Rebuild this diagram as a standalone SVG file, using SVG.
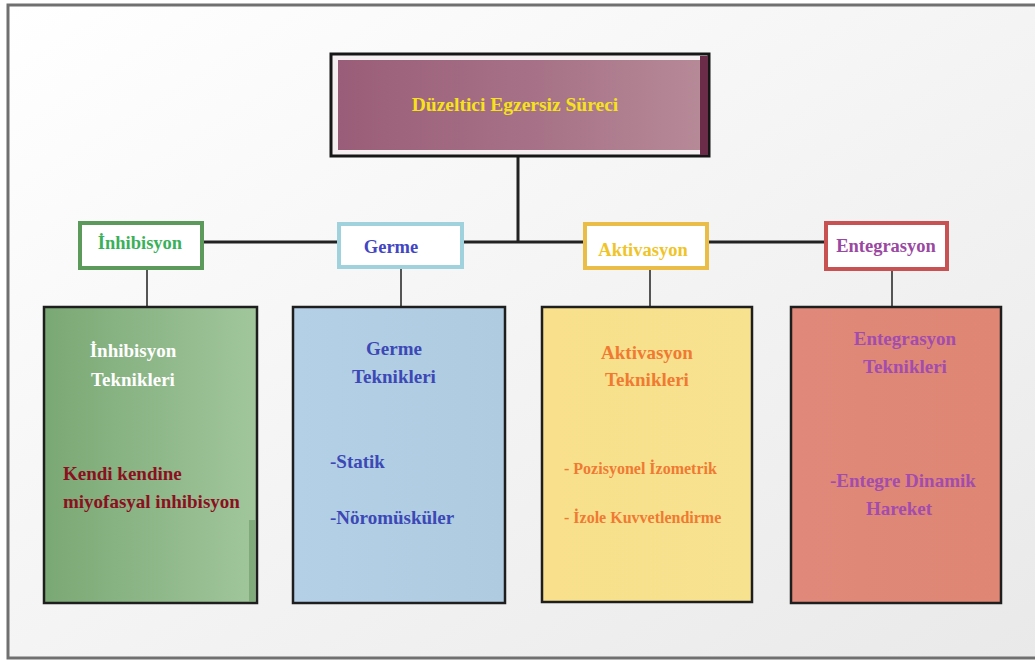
<svg xmlns="http://www.w3.org/2000/svg" width="1035" height="661" viewBox="0 0 1035 661">
<defs>
<linearGradient id="bg" x1="0" y1="0" x2="1" y2="1"><stop offset="0" stop-color="#ffffff"/><stop offset="1" stop-color="#e9e9ea"/></linearGradient>
<linearGradient id="gTop" x1="0" y1="0" x2="1" y2="0"><stop offset="0" stop-color="#9a5d79"/><stop offset="0.6" stop-color="#a87488"/><stop offset="1" stop-color="#b78a98"/></linearGradient>
<linearGradient id="gGreen" x1="0" y1="0" x2="1" y2="0"><stop offset="0" stop-color="#7aa874"/><stop offset="1" stop-color="#a1c69c"/></linearGradient>
<linearGradient id="gBlue" x1="0" y1="0" x2="1" y2="0"><stop offset="0" stop-color="#b4d0e6"/><stop offset="1" stop-color="#aecbe0"/></linearGradient>
<linearGradient id="gYellow" x1="0" y1="0" x2="1" y2="0"><stop offset="0" stop-color="#f8e08c"/><stop offset="1" stop-color="#f7e28f"/></linearGradient>
<linearGradient id="gRed" x1="0" y1="0" x2="1" y2="0"><stop offset="0" stop-color="#e0897a"/><stop offset="1" stop-color="#df8674"/></linearGradient>
<style>
text{font-family:"Liberation Serif","Times New Roman",serif;font-weight:bold;}
.big{stroke:#1e1e1e;stroke-width:2.5;}
.small{fill:#ffffff;stroke-width:4;}
.c{text-anchor:middle;}
.conn line{stroke:#222;stroke-width:3;}
.conn line.thin{stroke:#555;stroke-width:2;}
</style>
</defs>
<rect x="0" y="0" width="1035" height="661" fill="#ffffff"/>
<rect x="8" y="5" width="1040" height="653" fill="url(#bg)" stroke="#707070" stroke-width="3"/>
<g class="conn" id="connectors">
<line x1="518" y1="157" x2="518" y2="242"/>
<line x1="203" y1="242" x2="826" y2="242"/>
<line class="thin" x1="147" y1="269" x2="147" y2="307"/>
<line class="thin" x1="401" y1="268" x2="401" y2="307"/>
<line class="thin" x1="650" y1="269" x2="650" y2="307"/>
<line class="thin" x1="892" y1="270" x2="892" y2="307"/>
</g>
<g id="top">
<rect x="331" y="54" width="378" height="102" fill="#f4eef1" stroke="#161616" stroke-width="3"/>
<rect x="338" y="60" width="364" height="90" fill="url(#gTop)"/>
<rect x="700" y="56" width="8" height="99" fill="#6a2c48"/>
<text class="c" x="515" y="111" font-size="19.5" fill="#f6e21a">Düzeltici Egzersiz Süreci</text>
</g>
<g id="inhibisyon">
<rect class="small" x="80" y="223" width="122" height="45" stroke="#5c9a5c"/>
<text class="c" x="140" y="249" font-size="18.5" fill="#3bb05a">İnhibisyon</text>
</g>
<g id="germe">
<rect class="small" x="339" y="224" width="123" height="43" stroke="#a0d2de"/>
<text class="c" x="391" y="253" font-size="18.5" fill="#4246c2">Germe</text>
</g>
<g id="aktivasyon">
<rect class="small" x="585" y="224" width="122" height="44" stroke="#eabc48"/>
<text class="c" x="643" y="256" font-size="18.5" fill="#f0c428">Aktivasyon</text>
</g>
<g id="entegrasyon">
<rect class="small" x="826" y="223" width="121" height="46" stroke="#c85252"/>
<text class="c" x="886" y="252" font-size="18.5" fill="#9a48a2">Entegrasyon</text>
</g>
<g id="inhibisyon-teknikleri">
<rect class="big" x="44" y="307" width="213" height="296" fill="url(#gGreen)"/>
<rect x="249" y="520" width="6" height="82" fill="#5f8f5a" opacity="0.5"/>
<text class="c" x="133" y="357" font-size="19" fill="#ffffff">İnhibisyon</text>
<text class="c" x="133" y="386" font-size="19" fill="#ffffff">Teknikleri</text>
<text x="63" y="480" font-size="19" fill="#8b1020">Kendi kendine</text>
<text x="63" y="508" font-size="19" fill="#8b1020">miyofasyal inhibisyon</text>
</g>
<g id="germe-teknikleri">
<rect class="big" x="293" y="307" width="212" height="296" fill="url(#gBlue)"/>
<text class="c" x="394" y="355" font-size="19" fill="#3c48b6">Germe</text>
<text class="c" x="394" y="383" font-size="19" fill="#3c48b6">Teknikleri</text>
<text x="330" y="468" font-size="19" fill="#3c48b6">-Statik</text>
<text x="330" y="524" font-size="19" fill="#3c48b6">-Nöromüsküler</text>
</g>
<g id="aktivasyon-teknikleri">
<rect class="big" x="542" y="307" width="210" height="295" fill="url(#gYellow)"/>
<text class="c" x="647" y="359" font-size="19" fill="#f07a32">Aktivasyon</text>
<text class="c" x="647" y="386" font-size="19" fill="#f07a32">Teknikleri</text>
<text x="564" y="474" font-size="16" fill="#f07a32">- Pozisyonel İzometrik</text>
<text x="564" y="523" font-size="16" fill="#f07a32">- İzole Kuvvetlendirme</text>
</g>
<g id="entegrasyon-teknikleri">
<rect class="big" x="791" y="307" width="210" height="296" fill="url(#gRed)"/>
<text class="c" x="905" y="345" font-size="19" fill="#a24cae">Entegrasyon</text>
<text class="c" x="905" y="373" font-size="19" fill="#a24cae">Teknikleri</text>
<text x="830" y="487" font-size="19" fill="#a24cae">-Entegre Dinamik</text>
<text x="866" y="515" font-size="19" fill="#a24cae">Hareket</text>
</g>
</svg>
